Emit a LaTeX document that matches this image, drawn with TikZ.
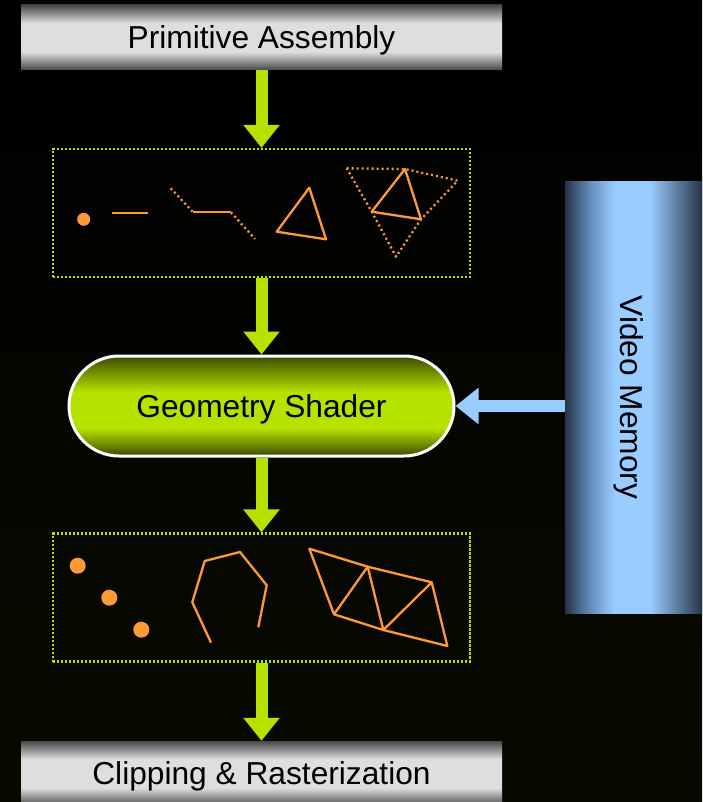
\documentclass[tikz,border=0pt]{standalone}
\usepackage{fontspec}
\setmainfont{Liberation Sans}
\usepackage{graphicx}
\usetikzlibrary{arrows.meta, positioning}

\definecolor{limegreen}{RGB}{182,226,0}
\definecolor{olivedark}{RGB}{58,74,0}
\definecolor{shapeorange}{RGB}{255,153,51}
\definecolor{memblue}{RGB}{153,204,255}
\definecolor{memmid}{RGB}{100,140,185}
\definecolor{memdark}{RGB}{38,52,72}
\definecolor{greylight}{RGB}{222,222,222}
\definecolor{greydark}{RGB}{72,72,72}
\definecolor{bggreen}{RGB}{8,10,0}

% shadings: the path is mapped onto 25bp..75bp
\pgfdeclareverticalshading{greyshade}{100bp}{color(0bp)=(greydark); color(25bp)=(greydark); color(39bp)=(greylight); color(61bp)=(greylight); color(75bp)=(greydark); color(100bp)=(greydark)}
\pgfdeclareverticalshading{gsshade}{100bp}{color(0bp)=(olivedark); color(25bp)=(olivedark); color(39bp)=(limegreen); color(57bp)=(limegreen); color(75bp)=(olivedark); color(100bp)=(olivedark)}
\pgfdeclarehorizontalshading{memshade}{100bp}{color(0bp)=(memdark); color(25bp)=(memdark); color(34bp)=(memmid); color(43bp)=(memblue); color(56bp)=(memblue); color(75bp)=(memdark); color(100bp)=(memdark)}

\newcommand\boxfont{\fontsize{31.7pt}{38pt}\selectfont}

\begin{document}
\begin{tikzpicture}[
    x=1pt, y=-1pt,
    greybox/.style={shade, shading=greyshade, minimum width=481pt, minimum height=65pt,
        inner sep=0pt, text depth=0pt, font=\boxfont},
    primbox/.style={draw=limegreen, line width=2.2pt, dash pattern=on 2.2pt off 1.8pt,
        minimum width=417pt, minimum height=128pt},
    shaderbox/.style={shade, shading=gsshade, draw=white, line width=3pt, rounded corners=50pt,
        minimum width=385pt, minimum height=100pt, inner sep=0pt, text depth=0pt, font=\boxfont},
    membox/.style={shade, shading=memshade, minimum width=137pt, minimum height=431pt,
        inner sep=0pt, font=\boxfont},
    flow/.style={limegreen, line width=12pt, -{Triangle[width=35pt, length=23pt]}},
    fetch/.style={memblue, line width=12pt, -{Triangle[width=35pt, length=23pt]}},
    prim/.style={shapeorange, line width=2.3pt, line join=round},
    adj/.style={prim, dash pattern=on 2pt off 3pt}
]

% background
\path[use as bounding box, top color=black, bottom color=bggreen] (0,0) rectangle (702,802);

% pipeline stages
\node[greybox] (pa) at (261.5,37.5) {Primitive Assembly};
\node[primbox] (inprim) at (261.5,213) {};
\node[shaderbox] (gs) at (261.5,406) {Geometry Shader};
\node[primbox] (outprim) at (261.5,597.5) {};
\node[greybox] (cr) at (261.5,773.5) {Clipping \& Rasterization};
\node[membox] (vmem) at (633.5,397.5) {\rotatebox{-90}{Video Memory}\hspace*{10pt}};

% input primitives
\fill[shapeorange] (83.7,219.3) circle (6.5pt);
\draw[prim] (111.7,213) -- (147.7,213);
\draw[adj] (170.7,188.3) -- (193.3,212.3);
\draw[prim] (193.3,212.3) -- (231,212.3);
\draw[adj] (231,212.3) -- (255,239);
\draw[prim] (276.7,231.7) -- (309.3,187.7) -- (326,239.3) -- cycle;
\draw[adj] (346.7,168.3) -- (405,169) -- (457.7,180.7) -- (421,219.3) -- (396,256.7) -- (371.7,211.7) -- cycle;
\draw[prim] (371.7,211.7) -- (405,169) -- (421,219.3) -- cycle;

% output primitives
\foreach \px/\py in {77.7/565.7, 109.3/597.7, 141.3/629.7}
    \fill[shapeorange] (\px,\py) circle (8pt);
\draw[prim] (211,642.7) -- (192.3,602.3) -- (204.7,561) -- (240,552) -- (266.7,585.3) -- (258.3,627.3);
\draw[prim] (367.7,566.7) -- (309.3,548.7) -- (334,614.3) -- (383.3,630) -- (447.3,646) -- (431.7,582.3) -- cycle;
\draw[prim] (334,614.3) -- (367.7,566.7) -- (383.3,630) -- (431.7,582.3);

% connectors
\draw[flow] (pa) -- (inprim);
\draw[flow] (inprim) -- (gs);
\draw[flow] (gs) -- (outprim);
\draw[flow] (outprim) -- (cr);
\draw[fetch] (vmem.west |- gs.center) -- (gs.east);

\end{tikzpicture}
\end{document}
